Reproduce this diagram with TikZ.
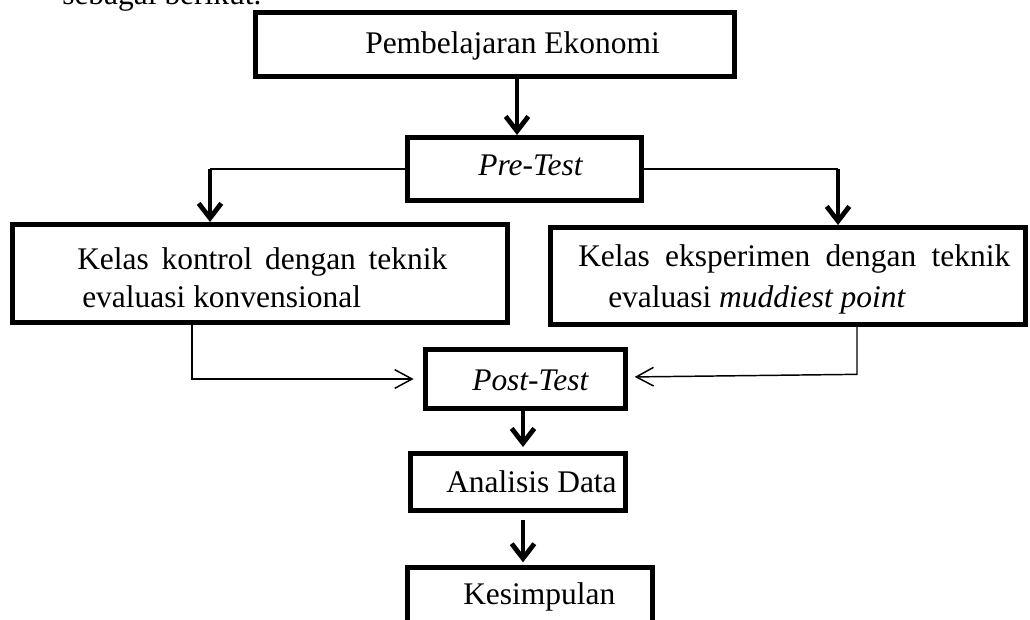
\documentclass[tikz,border=0pt]{standalone}
\usepackage{fontspec}
\setmainfont{Liberation Serif}
\usetikzlibrary{arrows.meta}
\begin{document}
\begin{tikzpicture}[x=0.75pt,y=-0.75pt,
  box/.style={draw,line width=4pt,rectangle,inner sep=0pt},
  txt/.style={anchor=base west,inner sep=0pt,font=\fontsize{23.6pt}{28pt}\selectfont},
  thin/.style={line width=1.1pt},
  thickarrow/.style={line width=3.6pt,-{Straight Barb[length=11pt,width=17pt]}},
  thinarrow/.style={line width=1.1pt,-{Straight Barb[length=13pt,width=14pt]}}]
\useasboundingbox (0,0) rectangle (1030,619);
\clip (0,0) rectangle (1030,619);
\fill[white] (0,0) rectangle (1030,619);
% partly cut heading line
\node[txt] (head) at (62,4) {sebagai berikut.};
% boxes
\node[box,minimum width=359pt,minimum height=47.8pt] (top) at (495,44.5) {};
\node[box,minimum width=175.3pt,minimum height=47pt] (pre) at (524.5,169) {};
\node[box,minimum width=371pt,minimum height=73.3pt] (kon) at (260,273.5) {};
\node[box,minimum width=356pt,minimum height=72.5pt] (eks) at (788,276) {};
\node[box,minimum width=149.8pt,minimum height=44pt] (post) at (525.5,379) {};
\node[box,minimum width=161pt,minimum height=42.5pt] (ana) at (518,482) {};
\node[box,minimum width=183.5pt,minimum height=44.8pt] (kes) at (530,597.5) {};
% texts
\node[txt] (ttop) at (365,53) {Pembelajaran Ekonomi};
\node[txt] (tpre) at (478,175) {\textit{Pre-Test}};
\node[txt] (tkon1) at (77,269) {\makebox[277.5pt][s]{Kelas kontrol dengan teknik}};
\node[txt] (tkon2) at (82,307) {evaluasi konvensional};
\node[txt] (teks1) at (578,266) {\makebox[324pt][s]{Kelas eksperimen dengan teknik}};
\node[txt] (teks2) at (608,307) {evaluasi \textit{muddiest point}};
\node[txt] (tpost) at (472,390) {\textit{Post-Test}};
\node[txt] (tana) at (446,492) {Analisis Data};
\node[txt] (tkes) at (463,604) {Kesimpulan};
% connector columns
\coordinate (c1) at (517,0);
\coordinate (c2) at (210,0);
\coordinate (c3) at (838,0);
\coordinate (c4) at (192,0);
\coordinate (c5) at (857,0);
\coordinate (c6) at (523,0);
% connectors
\draw[thickarrow] (c1 |- top.south) -- (c1 |- pre.north);
\draw[thin] (pre.west) -- (c2 |- pre.west);
\draw[thickarrow] (c2 |- pre.west) -- (c2 |- kon.north);
\draw[thin] (pre.east) -- (c3 |- pre.east);
\draw[thickarrow] (c3 |- pre.east) -- (c3 |- eks.north);
\draw[thinarrow,shorten >=7pt] (c4 |- kon.south) -- (c4 |- post.west) -- (post.west);
\draw[thinarrow,shorten >=5pt] (c5 |- eks.south) -- ([yshift=3.5pt]c5 |- post.east) -- ([yshift=1.5pt]post.east);
\draw[thickarrow,shorten >=3pt] (c6 |- post.south) -- (c6 |- ana.north);
\draw[thickarrow,shorten <=5pt,shorten >=2pt] (c6 |- ana.south) -- (c6 |- kes.north);
\end{tikzpicture}
\end{document}
